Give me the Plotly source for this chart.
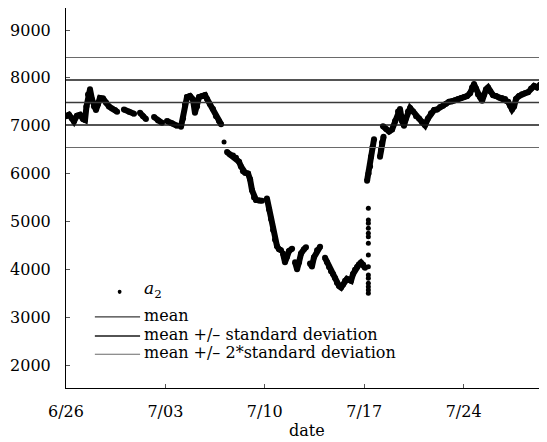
import datetime as dt
import plotly.graph_objects as go

BASE = dt.datetime(2011, 6, 26)

# ---- data (day offsets from 6/26 00:00, values) ----
# connected runs of hourly readings; None marks a gap in the record
seg_days = [
    0.0, 0.21, 0.42, 0.56, 0.77, 0.99, 1.2, 1.34, 1.44, 1.55, 1.69, 1.83, 1.97, 2.11, 2.25, 2.39, 2.61, 2.82, 3.03, 3.24, 3.45, 3.6, None,
    4.08, 4.44, 4.79, None,
    5.21, 5.42, 5.63, None,
    6.2, 6.48, 6.76, None,
    7.11, 7.46, 7.82, None,
    8.1, 8.24, 8.38, 8.52, 8.73, 8.94, 9.08, 9.23, 9.37, 9.58, 9.79, 9.93, 10.14, 10.35, 10.56, 10.77, 10.92, None,
    11.34, 11.55, 11.76, 11.97, 12.18, 12.32, 12.46, 12.61, 12.82, 12.96, 13.1, 13.24, 13.38, 13.59, 13.8, None,
    14.15, 14.3, 14.44, 14.58, 14.72, 14.86, 15.0, 15.14, None,
    15.28, 15.42, 15.56, 15.7, 15.92, None,
    16.13, 16.27, 16.41, 16.55, 16.76, 16.9, None,
    17.18, 17.32, 17.46, 17.68, 17.89, None,
    18.24, 18.38, 18.52, 18.66, 18.8, 18.94, 19.08, 19.23, 19.37, 19.51, 19.65, 19.79, 19.93, 20.07, 20.21, 20.35, 20.49, 20.63, 20.77, 20.92, 21.06, None,
    21.2, 21.3, 21.41, 21.48, 21.58, 21.69, None,
    22.11, 22.18, 22.25, 22.36, None,
    22.32, 22.54, 22.75, 22.96, 23.17, 23.38, 23.52, 23.66, 23.8, 23.94, 24.08, 24.23, 24.44, 24.65, 24.86, 25.07, 25.28, 25.49, 25.7, 25.92,
    26.13, 26.34, 26.55, 26.76, 26.97, 27.18, 27.39, 27.61, 27.82, 28.03, 28.24, 28.45, 28.59, 28.73, 28.87, 29.01, 29.15, 29.3, 29.44, 29.58,
    29.72, 29.86, 30.07, 30.28, 30.49, 30.7, 30.92, 31.13, 31.27, 31.41, 31.55, 31.69, 31.9, 32.11, 32.32, 32.54, 32.75, 32.96, 33.17, 33.38,
    33.59, 33.8,
]
seg_vals = [
    7200, 7230, 7150, 7090, 7210, 7230, 7140, 7120, 7400, 7650, 7760, 7550, 7400, 7330, 7450, 7580, 7570, 7480, 7400, 7360, 7330, 7290, None,
    7340, 7290, 7250, None,
    7270, 7200, 7140, None,
    7180, 7110, 7060, None,
    7100, 7050, 7000, None,
    6980, 7150, 7450, 7600, 7620, 7550, 7270, 7400, 7600, 7620, 7640, 7560, 7450, 7350, 7200, 7100, 7030, None,
    6450, 6400, 6380, 6330, 6250, 6150, 6050, 6020, 6000, 5880, 5650, 5500, 5450, 5440, 5430, None,
    5480, 5250, 5050, 4820, 4620, 4480, 4420, 4400, None,
    4330, 4150, 4260, 4380, 4430, None,
    4150, 4000, 4150, 4330, 4420, 4460, None,
    4120, 4060, 4250, 4400, 4470, None,
    4240, 4150, 4050, 3960, 3900, 3820, 3720, 3650, 3620, 3680, 3760, 3800, 3780, 3760, 3900, 3990, 4050, 4100, 4140, 4100, 4030, None,
    5850, 6000, 6150, 6350, 6550, 6720, None,
    6350, 6500, 6650, 6770, None,
    6990, 6930, 6880, 6920, 7100, 7300, 7350, 7100, 7000, 7150, 7300, 7370, 7300, 7200, 7150, 7080, 7010, 7150, 7260, 7330,
    7340, 7390, 7420, 7460, 7500, 7510, 7530, 7560, 7580, 7600, 7620, 7680, 7800, 7870, 7780, 7650, 7600, 7520, 7650, 7760,
    7800, 7720, 7640, 7620, 7590, 7580, 7560, 7500, 7420, 7340, 7400, 7560, 7620, 7660, 7680, 7700, 7780, 7830, 7800, 7860,
    7900, 7920,
]
# isolated readings (single point on 7/07 and the column on 7/17)
pt_days = [11.13] + [21.29] * 15
pt_vals = [6660, 3500, 3568, 3637, 3709, 3813, 3882, 4055, 4300, 4544, 4682, 4753, 4857, 4962, 5031, 5275]

mean_val = 7485
sd_val = 470

tick_days = [0, 7, 14, 21, 28]
tick_text = ["6/26", "7/03", "7/10", "7/17", "7/24"]
y_ticks = [2000, 3000, 4000, 5000, 6000, 7000, 8000, 9000]

legend_names = ["<i>a</i><sub>2</sub>", "mean", "mean +/– standard deviation", "mean +/– 2*standard deviation"]
x_title = "date"

x_start_day = 0.0
x_end_day = 33.87
y_lo, y_hi = 1520, 9460


def to_dt(d):
    return None if d is None else BASE + dt.timedelta(days=d)


seg_x = [to_dt(d) for d in seg_days]
pt_x = [to_dt(d) for d in pt_days]
x0, x1 = to_dt(x_start_day), to_dt(x_end_day)

FONT = "DejaVu Serif, Liberation Serif, serif"
FS = 16
LFS = 16
C_MEAN, C_SD, C_SD2 = "#3a3a3a", "#1a1a1a", "#6a6a6a"
W_MEAN, W_SD, W_SD2 = 1.3, 1.6, 1.1

fig = go.Figure()

fig.add_trace(go.Scatter(x=seg_x, y=seg_vals, mode="lines+markers", connectgaps=False,
                         line=dict(color="black", width=6), marker=dict(color="black", size=6),
                         showlegend=False, hoverinfo="skip"))
fig.add_trace(go.Scatter(x=pt_x, y=pt_vals, mode="markers",
                         marker=dict(color="black", size=5), showlegend=False))

fig.add_trace(go.Scatter(x=[x0, x1], y=[mean_val, mean_val], mode="lines", showlegend=False,
                         line=dict(color=C_MEAN, width=W_MEAN)))
fig.add_trace(go.Scatter(x=[x0, x1, None, x0, x1],
                         y=[mean_val + sd_val, mean_val + sd_val, None, mean_val - sd_val, mean_val - sd_val],
                         mode="lines", showlegend=False, line=dict(color=C_SD, width=W_SD)))
fig.add_trace(go.Scatter(x=[x0, x1, None, x0, x1],
                         y=[mean_val + 2 * sd_val, mean_val + 2 * sd_val, None, mean_val - 2 * sd_val, mean_val - 2 * sd_val],
                         mode="lines", showlegend=False, line=dict(color=C_SD2, width=W_SD2)))

# ---- hand-placed legend (paper coordinates) ----
leg_x0, leg_x1, leg_tx = 0.060, 0.154, 0.158
row_y = [0.253, 0.187, 0.137, 0.089]
shapes = [
    dict(type="circle", xref="paper", yref="paper", x0=0.1075, x1=0.1155,
         y0=row_y[0] - 0.0055, y1=row_y[0] + 0.0055, fillcolor="black", line=dict(width=0)),
]
for yy, c, w in zip(row_y[1:], [C_MEAN, C_SD, C_SD2], [W_MEAN, W_SD, W_SD2]):
    shapes.append(dict(type="line", xref="paper", yref="paper", x0=leg_x0, x1=leg_x1,
                       y0=yy, y1=yy, line=dict(color=c, width=w)))
annotations = []
for i, (yy, name) in enumerate(zip(row_y, legend_names)):
    annotations.append(dict(xref="paper", yref="paper", x=leg_tx, y=yy + (0.006 if i == 0 else 0.004),
                            xanchor="left", yanchor="middle", text=name, showarrow=False,
                            font=dict(family=FONT, size=LFS if i else FS + 1, color="black")))
annotations.append(dict(xref="paper", yref="paper", x=0.5, y=-0.112, xanchor="center", yanchor="middle",
                        text=x_title, showarrow=False, font=dict(family=FONT, size=FS, color="black")))

fig.update_layout(
    width=539, height=434,
    margin=dict(l=58, r=0, t=0, b=54),
    paper_bgcolor="white", plot_bgcolor="white",
    font=dict(family=FONT, size=FS, color="black"),
    showlegend=False,
    shapes=shapes, annotations=annotations,
    xaxis=dict(range=[x0, x1], type="date", showgrid=False, zeroline=False,
               showline=True, linecolor="black", linewidth=1,
               tickmode="array", tickvals=[to_dt(d) for d in tick_days], ticktext=tick_text,
               ticks="inside", ticklen=4, tickcolor="#555", ticklabelstandoff=9,
               tickfont=dict(family=FONT, size=FS)),
    yaxis=dict(range=[y_lo, y_hi], showgrid=False, zeroline=False,
               showline=True, linecolor="black", linewidth=1,
               tickmode="array", tickvals=y_ticks,
               ticks="inside", ticklen=4, tickcolor="#555", ticklabelstandoff=11,
               tickfont=dict(family=FONT, size=FS)),
)

fig.write_html("out.html")
